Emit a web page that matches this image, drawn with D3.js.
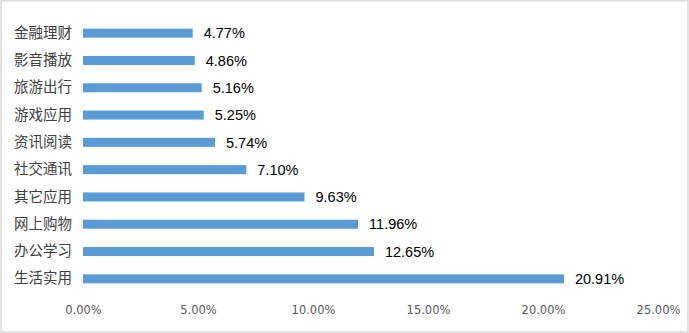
<!DOCTYPE html>
<html>
<head>
<meta charset="utf-8">
<script src="https://cdn.jsdelivr.net/npm/d3@7"></script>
<style>
  html, body { margin: 0; padding: 0; background: #fff; }
  svg { display: block; }
</style>
</head>
<body>
<svg id="chart" width="689" height="333"></svg>
<script>
// App categories (top to bottom) and their usage share in percent
const categories = ["金融理财", "影音播放", "旅游出行", "游戏应用", "资讯阅读", "社交通讯", "其它应用", "网上购物", "办公学习", "生活实用"];
const shares = [4.77, 4.86, 5.16, 5.25, 5.74, 7.10, 9.63, 11.96, 12.65, 20.91];
const tickValues = [0, 5, 10, 15, 20, 25];

const data = categories.map((c, i) => ({ name: c, value: shares[i] }));

const svg = d3.select("#chart");
const W = 689, H = 333;
const margin = { left: 83, right: 31, top: 19.5, bottom: 40.5 };

// Outer chart frame
svg.append("rect")
  .attr("x", 1).attr("y", 0.75)
  .attr("width", W - 2).attr("height", H - 1.75)
  .attr("fill", "#fff")
  .attr("stroke", "#d9d9d9")
  .attr("stroke-width", 1.5);

const x = d3.scaleLinear().domain([0, 25]).range([margin.left, W - margin.right]);
const y = d3.scaleBand().domain(categories).range([margin.top, H - margin.bottom]).paddingInner(0.67).paddingOuter(0.335);

// Bars
svg.append("g").selectAll("rect")
  .data(data)
  .join("rect")
  .attr("x", x(0))
  .attr("y", d => y(d.name))
  .attr("width", d => x(d.value) - x(0))
  .attr("height", y.bandwidth())
  .attr("fill", "#5b9bd5");

// Value labels
svg.append("g").selectAll("text")
  .data(data)
  .join("text")
  .attr("x", d => x(d.value) + 11)
  .attr("y", d => y(d.name) + y.bandwidth() / 2)
  .attr("dy", "0.36em")
  .attr("font-family", "'Liberation Sans', Arial, sans-serif")
  .attr("font-size", 14.5)
  .attr("fill", "#000")
  .text(d => d.value.toFixed(2) + "%");

// Category axis (no line, no ticks)
const yAxis = svg.append("g")
  .attr("transform", `translate(${margin.left},0)`)
  .call(d3.axisLeft(y).tickSize(0).tickPadding(11));
yAxis.select(".domain").remove();
yAxis.selectAll("text")
  .attr("font-family", "'Noto Sans CJK SC', sans-serif")
  .attr("font-size", 14.5)
  .attr("fill", "#404040");

// Value axis (labels only)
const xAxis = svg.append("g")
  .attr("transform", `translate(0,${H - margin.bottom})`)
  .call(d3.axisBottom(x).tickValues(tickValues).tickSize(0).tickPadding(13)
    .tickFormat(d => d.toFixed(2) + "%"));
xAxis.select(".domain").remove();
xAxis.selectAll("text")
  .attr("font-family", "'DejaVu Sans', sans-serif")
  .attr("font-size", 11.5)
  .attr("fill", "#595959");
</script>
</body>
</html>
